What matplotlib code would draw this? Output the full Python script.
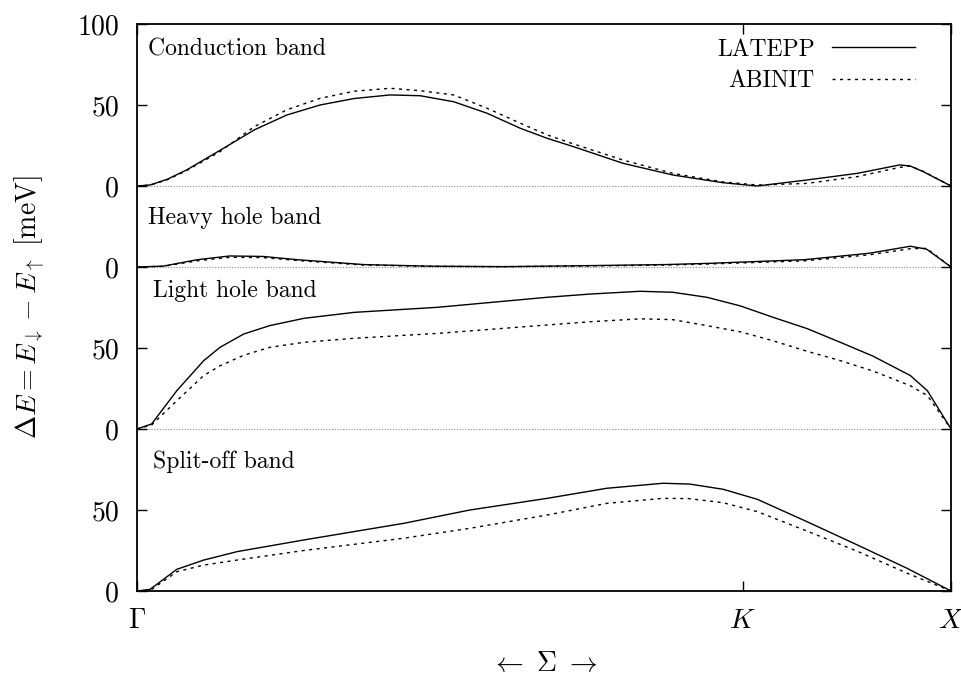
import matplotlib
matplotlib.use("Agg")
import matplotlib.pyplot as plt

plt.rcParams['font.family'] = 'serif'
plt.rcParams['font.serif'] = ['cmr10']
plt.rcParams['mathtext.fontset'] = 'cm'
plt.rcParams['axes.unicode_minus'] = False
plt.rcParams['axes.formatter.use_mathtext'] = True

# k-path coordinate (Gamma=0, X=1)
k_pos = 0.744

# Conduction band
cb_x = [0.0, 0.016, 0.037, 0.061, 0.102, 0.144, 0.184, 0.225, 0.267, 0.311, 0.348, 0.389, 0.430, 0.471, 0.504, 0.536, 0.597, 0.658, 0.720, 0.762, 0.823, 0.885, 0.937, 0.950, 0.966, 1.0]
cb_latepp = [0.0, 0.6, 4.1, 9.9, 22, 34.6, 43.8, 50, 54, 56.2, 55.7, 52, 44.9, 35.6, 29.4, 24.3, 14, 6.8, 2.0, 0.0, 3.7, 7.8, 13, 12.3, 8.8, 0.0]
cb_abinit = [0.0, 0.5, 3.8, 9.5, 21.2, 36.6, 47, 54.1, 58.5, 60.3, 58.8, 56.2, 48, 38.7, 31.5, 26, 16, 7.8, 2.5, 0.6, 1.6, 5.8, 11.5, 12.3, 9.0, 0.0]

# Heavy hole band
hh_x = [0.0, 0.032, 0.074, 0.114, 0.155, 0.197, 0.278, 0.36, 0.45, 0.55, 0.65, 0.70, 0.82, 0.90, 0.95, 0.97, 1.0]
hh_latepp = [0.0, 0.5, 4.5, 6.8, 6.5, 4.5, 1.5, 0.5, 0.2, 0.8, 1.5, 2.2, 4.5, 8.5, 12.8, 11, 0.0]
hh_abinit = [0.0, 0.4, 3.8, 6.0, 5.8, 4.0, 1.2, 0.4, 0.2, 0.6, 1.2, 1.8, 3.8, 7.5, 11.3, 11.5, 0.0]

# Light hole band
lh_x = [0.0, 0.018, 0.049, 0.082, 0.102, 0.131, 0.163, 0.205, 0.267, 0.369, 0.504, 0.557, 0.618, 0.658, 0.700, 0.741, 0.781, 0.823, 0.864, 0.904, 0.950, 0.971, 1.0]
lh_latepp = [0.0, 3.1, 23.7, 42.2, 50.4, 58.6, 63.8, 68.3, 72, 75.1, 81.3, 83.3, 85, 84.4, 81.3, 76, 69, 62, 53.5, 45, 33, 23.6, 0.0]
lh_abinit = [0.0, 2.5, 17.5, 33, 39, 45.5, 50.4, 53.5, 56, 59, 64.2, 66.2, 68, 67.5, 63.8, 60, 54.5, 48, 42.2, 35.8, 26.7, 20.6, 0.0]

# Split-off band
so_x = [0.0, 0.016, 0.049, 0.082, 0.123, 0.205, 0.328, 0.409, 0.504, 0.577, 0.646, 0.679, 0.720, 0.762, 0.823, 0.885, 0.946, 1.0]
so_latepp = [0.0, 1.0, 13.4, 19.1, 24.3, 31.5, 41.8, 50, 57.2, 63.4, 66.5, 66, 62.8, 56.6, 42.8, 28.4, 14, 0.0]
so_abinit = [0.0, 0.3, 11.9, 16, 19.1, 25, 32.6, 38.7, 46.9, 54.1, 57.2, 57, 54.5, 49, 37, 24.5, 11, 0.0]

# vertical offsets of each panel
offsets = {'so': 0, 'lh': 100, 'hh': 200, 'cb': 250}

ytick_pos = [0, 50, 100, 150, 200, 250, 300, 350]
ytick_labels = ['0', '50', '0', '50', '0', '0', '50', '100']
xtick_pos = [0.0, k_pos, 1.0]
xtick_labels = [r'$\Gamma$', r'$K$', r'$X$']

fig = plt.figure(figsize=(9.62, 6.79), dpi=100)
ax = fig.add_axes([0.1424, 0.1296, 0.8462, 0.8351])

dash = (0, (2.2, 3.2))
for xs, a, b, key in [(cb_x, cb_latepp, cb_abinit, 'cb'),
                      (hh_x, hh_latepp, hh_abinit, 'hh'),
                      (lh_x, lh_latepp, lh_abinit, 'lh'),
                      (so_x, so_latepp, so_abinit, 'so')]:
    off = offsets[key]
    ax.plot(xs, [v + off for v in a], color='black', lw=1.0,
            label='LATEPP' if key == 'cb' else None)
    ax.plot(xs, [v + off for v in b], color='black', lw=1.0, linestyle=dash,
            label='ABINIT' if key == 'cb' else None)

for key in ['lh', 'hh', 'cb']:
    ax.axhline(offsets[key], color='#888888', lw=0.8, linestyle=(0, (1, 1.5)), zorder=0)

ax.set_xlim(0, 1)
ax.set_ylim(0, 350)
ax.set_yticks(ytick_pos)
ax.set_yticklabels(ytick_labels)
ax.set_xticks(xtick_pos)
ax.set_xticklabels(xtick_labels)
ax.tick_params(direction='in', length=7, width=1.0, top=True, right=True,
               labelsize=20)
ax.tick_params(axis='y', pad=13)
ax.tick_params(axis='x', pad=12)
for sp in ax.spines.values():
    sp.set_linewidth(1.3)

ax.set_ylabel(r'$\Delta E = E_{\downarrow} - E_{\uparrow}$ [meV]', fontsize=20, labelpad=22)
ax.set_xlabel(r'$\leftarrow\ \Sigma\ \rightarrow$', fontsize=20, labelpad=12)

band_labels = ['Conduction band', 'Heavy hole band', 'Light hole band', 'Split-off band']
band_label_x = [0.014, 0.014, 0.02, 0.02]
band_label_y = [334, 230, 185, 80]
for txt, xx, yy in zip(band_labels, band_label_x, band_label_y):
    ax.text(xx, yy, txt, fontsize=17, va='center', ha='left')

leg = ax.legend(loc='upper right', frameon=False, markerfirst=False, fontsize=17,
                handlelength=3.5, bbox_to_anchor=(0.982, 1.012), labelspacing=0.4,
                handletextpad=0.75)

fig.savefig('out.png', dpi=100)
